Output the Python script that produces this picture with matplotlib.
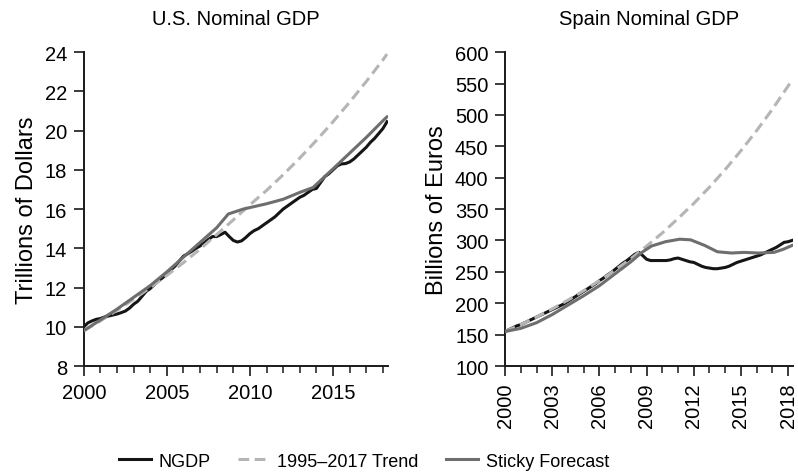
import numpy as np
import matplotlib
matplotlib.use('Agg')
import matplotlib.pyplot as plt
from matplotlib.ticker import MultipleLocator, FixedLocator

plt.rcParams['font.family'] = ['Liberation Sans', 'DejaVu Sans']

# quarterly NGDP, 2000Q1 .. 2018Q2
quarters = 2000 + np.arange(74) / 4.0

us_ngdp = [10.00, 10.20, 10.30, 10.38,
           10.42, 10.50, 10.55, 10.60,
           10.65, 10.72, 10.80, 10.95,
           11.15, 11.30, 11.55, 11.80,
           11.95, 12.15, 12.35, 12.50,
           12.70, 12.90, 13.10, 13.35,
           13.60, 13.72, 13.85, 14.00,
           14.12, 14.28, 14.45, 14.60,
           14.60, 14.70, 14.82, 14.60,
           14.40, 14.32, 14.38, 14.55,
           14.75, 14.90, 15.00, 15.15,
           15.30, 15.45, 15.60, 15.80,
           16.00, 16.15, 16.30, 16.45,
           16.60, 16.70, 16.85, 17.00,
           17.05, 17.35, 17.65, 17.80,
           18.00, 18.20, 18.30, 18.32,
           18.40, 18.55, 18.75, 18.95,
           19.15, 19.40, 19.60, 19.85,
           20.10, 20.45]

us_sticky_x = [2000, 2001, 2002, 2003, 2004, 2005, 2006, 2007, 2008, 2008.7,
               2009.6, 2011, 2012, 2013, 2013.8, 2015, 2016, 2017, 2018, 2018.25]
us_sticky = [9.8, 10.35, 10.9, 11.5, 12.1, 12.8, 13.55, 14.3, 15.05, 15.75,
             16.0, 16.27, 16.5, 16.85, 17.1, 18.05, 18.85, 19.65, 20.5, 20.7]

trend_x = [2000, 2001, 2002, 2003, 2004, 2005, 2006, 2007, 2008, 2009,
           2010, 2011, 2012, 2013, 2014, 2015, 2016, 2017, 2018, 2018.25]
us_trend = [9.80, 10.30, 10.84, 11.40, 12.00, 12.62, 13.27, 13.96, 14.70, 15.45,
            16.22, 16.95, 17.75, 18.60, 19.50, 20.45, 21.45, 22.50, 23.60, 23.90]

es_ngdp = [155, 158, 161, 164,
           166, 169, 172, 175,
           178, 181, 184, 187,
           190, 193, 196, 199,
           203, 207, 211, 215,
           219, 223, 227, 231,
           236, 240, 245, 249,
           254, 259, 264, 268,
           273, 278, 281, 276,
           270, 268, 268, 268,
           268, 268, 269, 271,
           272, 270, 268, 266,
           265, 262, 259, 257,
           256, 255, 255, 256,
           257, 259, 262, 265,
           267, 269, 271, 273,
           275, 277, 280, 283,
           286, 289, 293, 297,
           298, 300]

es_sticky_x = [2000, 2001, 2002, 2003, 2004, 2005, 2006, 2007, 2008, 2008.7,
               2009.3, 2010.2, 2011.1, 2011.8, 2012.7, 2013.5, 2014.4, 2015.2,
               2016.1, 2017.1, 2017.7, 2018.25]
es_sticky = [155, 160, 169, 182, 197, 212, 228, 247, 266, 281,
             291, 298, 302, 301, 292, 282, 280, 281,
             280, 281, 286, 292]

es_trend = [155, 166, 178, 191, 205, 220, 236, 253, 271, 291,
            312, 335, 359, 385, 413, 443, 475, 509, 546, 555]

c_ngdp = '#151515'
c_trend = '#b5b5b5'
c_sticky = '#6e6e6e'
lw = 2.2

fig = plt.figure(figsize=(7.98, 4.77), dpi=100)
ax1 = fig.add_axes([0.105, 0.2306, 0.381, 0.658])
ax2 = fig.add_axes([0.633, 0.2306, 0.3605, 0.658])


def style(ax):
    for s in ['top', 'right']:
        ax.spines[s].set_visible(False)
    for s in ['left', 'bottom']:
        ax.spines[s].set_linewidth(1.4)
        ax.spines[s].set_color('#1a1a1a')
    ax.tick_params(which='major', direction='out', length=7, width=1.2,
                   labelsize=14.5, pad=5, color='#1a1a1a')
    ax.tick_params(which='minor', direction='out', length=5, width=1.1,
                   color='#1a1a1a')
    ax.xaxis.set_minor_locator(MultipleLocator(1))


# U.S.
ax1.plot(quarters, us_ngdp, color=c_ngdp, lw=lw, zorder=2)
ax1.plot(trend_x, us_trend, color=c_trend, lw=lw, dashes=(3.5, 1.8), zorder=3)
ax1.plot(us_sticky_x, us_sticky, color=c_sticky, lw=lw, zorder=4)
ax1.set_xlim(2000, 2018.3)
ax1.set_ylim(8, 24)
ax1.yaxis.set_major_locator(MultipleLocator(2))
ax1.xaxis.set_major_locator(FixedLocator([2000, 2005, 2010, 2015]))
style(ax1)
ax1.set_title('U.S. Nominal GDP', fontsize=14.5, pad=20)
ax1.set_ylabel('Trillions of Dollars', fontsize=17, labelpad=5)

# Spain
l1, = ax2.plot(quarters, es_ngdp, color=c_ngdp, lw=lw, zorder=2)
l2, = ax2.plot(trend_x, es_trend, color=c_trend, lw=lw, dashes=(3.5, 1.8), zorder=3)
l3, = ax2.plot(es_sticky_x, es_sticky, color=c_sticky, lw=lw, zorder=4)
ax2.set_xlim(2000, 2018.3)
ax2.set_ylim(100, 600)
ax2.yaxis.set_major_locator(MultipleLocator(50))
ax2.xaxis.set_major_locator(FixedLocator(list(range(2000, 2019, 3))))
style(ax2)
for lab in ax2.get_xticklabels():
    lab.set_rotation(90)
ax2.set_title('Spain Nominal GDP', fontsize=14.5, pad=20)
ax2.set_ylabel('Billions of Euros', fontsize=17, labelpad=5)

fig.legend([l1, l2, l3], ['NGDP', '1995\u20132017 Trend', 'Sticky Forecast'],
           loc='center', bbox_to_anchor=(0.456, 0.031), ncol=3, frameon=False,
           fontsize=13, handlelength=1.8, handletextpad=0.4, columnspacing=1.5)

fig.savefig('out.png', dpi=100)
